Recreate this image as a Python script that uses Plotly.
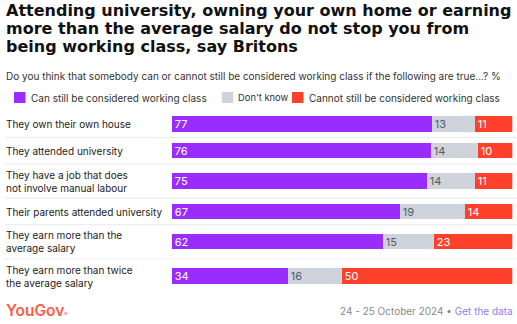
import plotly.graph_objects as go
import numpy as np

categories = [
    "They own their own house",
    "They attended university",
    "They have a job that does<br>not involve manual labour",
    "Their parents attended university",
    "They earn more than the<br>average salary",
    "They earn more than twice<br>the average salary",
]
can_still = [77, 76, 75, 67, 62, 34]
dont_know = [13, 14, 14, 19, 15, 16]
cannot_still = [11, 10, 11, 14, 23, 50]

series_names = ["Can still be considered working class", "Don't know", "Cannot still be considered working class"]
series_values = [can_still, dont_know, cannot_still]
series_colors = ["#9b2cfe", "#cfd3dc", "#ff412c"]
text_colors = ["#ffffff", "#555a63", "#ffffff"]

W, H = 517, 324
FONT = "Inter"
TITLE_FONT = "DejaVu Sans"

line_counts = [c.count("<br>") + 1 for c in categories]
row_h = [26.4 if n == 1 else 34.3 for n in line_counts]
bounds = np.concatenate([[0], np.cumsum(row_h)])
centers = (bounds[:-1] + bounds[1:]) / 2
total_h = bounds[-1]
top_px = 111.2

def py(px):
    return 1 - px / H

def pxx(px):
    return px / W

fig = go.Figure()
for name, vals, col, tcol in zip(series_names, series_values, series_colors, text_colors):
    fig.add_trace(go.Bar(
        x=vals, y=centers, orientation="h", name=name,
        marker=dict(color=col, line=dict(width=0)),
        width=15.5,
        text=[str(v) for v in vals], texttemplate="%{text}",
        textposition="inside", insidetextanchor="start", textangle=0,
        constraintext="none",
        textfont=dict(color=tcol, size=11, family=FONT),
        showlegend=False, hoverinfo="x+name",
    ))

annotations = []
shapes = []

title_lines = [
    "Attending university, owning your own home or earning",
    "more than the average salary do not stop you from",
    "being working class, say Britons",
]
for i, line in enumerate(title_lines):
    annotations.append(dict(
        text=line, xref="paper", yref="paper", x=pxx(4), y=py(10.5 + i * 17.8),
        xanchor="left", yanchor="middle", showarrow=False,
        font=dict(family=TITLE_FONT, size=16, color="#111111", weight="bold"),
    ))

annotations.append(dict(
    text="Do you think that somebody can or cannot still be considered working class if the following are true...? %",
    xref="paper", yref="paper", x=pxx(4), y=py(76), xanchor="left", yanchor="middle",
    showarrow=False, font=dict(family=FONT, size=10, color="#333333"),
))

legend_x = [14, 221.7, 292]
legend_sizes = [10, 9.4, 10]
for name, col, lx, fs in zip(series_names, series_colors, legend_x, legend_sizes):
    shapes.append(dict(type="rect", xref="paper", yref="paper",
                       x0=pxx(lx), x1=pxx(lx + 11.5), y0=py(103), y1=py(92),
                       fillcolor=col, line=dict(width=0)))
    annotations.append(dict(
        text=name, xref="paper", yref="paper", x=pxx(lx + 14.5), y=py(97.5),
        xanchor="left", yanchor="middle", showarrow=False,
        font=dict(family=FONT, size=fs, color="#333333"),
    ))

for cat, c in zip(categories, centers):
    annotations.append(dict(
        text=cat, xref="paper", yref="y", x=pxx(4), y=c,
        xanchor="left", yanchor="middle", align="left", showarrow=False,
        font=dict(family=FONT, size=10, color="#222222"),
    ))

for b in bounds[1:-1]:
    shapes.append(dict(type="line", xref="paper", yref="y", x0=pxx(5), x1=1,
                       y0=b, y1=b, line=dict(color="#ececf0", width=1), layer="below"))

annotations.append(dict(
    text="YouGov<span style='font-size:5px'>®</span>", xref="paper", yref="paper", x=pxx(4), y=py(310.5),
    xanchor="left", yanchor="middle", showarrow=False,
    font=dict(family=FONT, size=15.5, color="#ff5b4a", weight=600),
))
annotations.append(dict(
    text="24 - 25 October 2024 • <span style='color:#8b7ff5'>Get the data</span>",
    xref="paper", yref="paper", x=pxx(515), y=py(311), xanchor="right", yanchor="middle",
    showarrow=False, font=dict(family=FONT, size=10, color="#8a8a8a"),
))

fig.update_layout(
    width=W, height=H,
    margin=dict(l=0, r=0, t=0, b=0),
    paper_bgcolor="white", plot_bgcolor="white",
    barmode="stack", barnorm="percent", bargap=0,
    xaxis=dict(domain=[pxx(171.8), pxx(512.3)], range=[0, 100], visible=False, fixedrange=True),
    yaxis=dict(domain=[py(top_px + total_h), py(top_px)], range=[total_h, 0],
               visible=False, fixedrange=True),
    annotations=annotations, shapes=shapes,
    showlegend=False,
    font=dict(family=FONT),
)

fig.write_html("out.html", config={"displayModeBar": False})
